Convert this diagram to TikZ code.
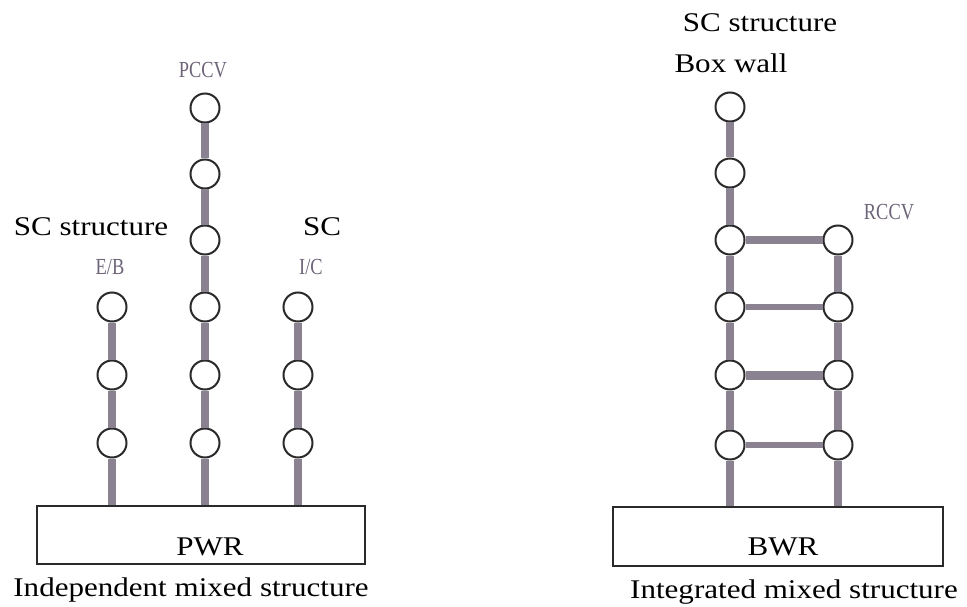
\documentclass[tikz,border=0pt]{standalone}
\usepackage{fontspec}
\newfontfamily\mainw[FakeStretch=1.15]{Liberation Serif}
\newfontfamily\labf[FakeStretch=0.8]{Liberation Serif}
\definecolor{barc}{HTML}{8A8290}
\definecolor{labc}{HTML}{6E6478}
\definecolor{ringc}{HTML}{2A2A2A}
\begin{document}
\begin{tikzpicture}[x=1pt,y=-1pt,
  ring/.style={circle,draw=ringc,line width=2pt,fill=white,minimum size=29pt,inner sep=0pt},
  bar/.style={draw=barc,line width=7.5pt},
  base/.style={draw=ringc,line width=1.5pt,fill=white,rectangle,inner sep=0pt},
  big/.style={font=\mainw\fontsize{27}{30}\selectfont,inner sep=0pt},
  small/.style={font=\labf\fontsize{23}{26}\selectfont,text=labc,inner sep=0pt}]
\useasboundingbox (0,0) rectangle (967,607);
% bases
\node[base,minimum width=328pt,minimum height=58pt] (pwr) at (201,535) {};
\node[base,minimum width=330pt,minimum height=59pt] (bwr) at (778,536.5) {};
\node[big] (pwrt) at (210,547) {PWR};
\node[big] (bwrt) at (783,547) {BWR};
% left: PCCV column
\foreach \i/\y in {1/108,2/174,3/240,4/307,5/375,6/443}
  \node[ring] (p\i) at (205,\y) {};
\foreach \i/\y in {1/307,2/375,3/443}{
  \node[ring] (e\i) at (112,\y) {};
  \node[ring] (c\i) at (298,\y) {};}
\draw[bar] (p1)--(p2) (p2)--(p3) (p3)--(p4) (p4)--(p5) (p5)--(p6);
\draw[bar] (e1)--(e2) (e2)--(e3) (c1)--(c2) (c2)--(c3);
\draw[bar] (p6)--(p6 |- pwr.north) (e3)--(e3 |- pwr.north) (c3)--(c3 |- pwr.north);
% right: ladder
\foreach \i/\y in {1/107,2/173,3/240,4/307,5/375,6/445}
  \node[ring] (l\i) at (730,\y) {};
\foreach \i/\y in {3/240,4/307,5/375,6/445}
  \node[ring] (r\i) at (838,\y) {};
\draw[bar] (l1)--(l2) (l2)--(l3) (l3)--(l4) (l4)--(l5) (l5)--(l6);
\draw[bar,line width=8pt] (r3)--(r4) (r4)--(r5) (r5)--(r6);
\draw[bar,line width=8pt] (l3)--(r3);
\draw[bar,line width=6pt] (l4)--(r4);
\draw[bar,line width=9pt] (l5)--(r5);
\draw[bar,line width=6pt] (l6)--(r6);
\draw[bar] (l6)--(l6 |- bwr.north);
\draw[bar,line width=8pt] (r6)--(r6 |- bwr.north);
% labels
\node[small] (pccv) at (203,70) {PCCV};
\node[small] (eb) at (110,267) {E/B};
\node[small] (ic) at (311,267) {I/C};
\node[small] (rccv) at (889,212) {RCCV};
\node[big] (scl) at (91,227) {SC structure};
\node[big] (sc) at (322,227) {SC};
\node[big] (scr) at (760,23) {SC structure};
\node[big] (bw) at (731,63) {Box wall};
\node[big] (ind) at (191,590) {Independent mixed structure};
\node[big] (intg) at (794,592) {Integrated mixed structure};
\end{tikzpicture}
\end{document}
